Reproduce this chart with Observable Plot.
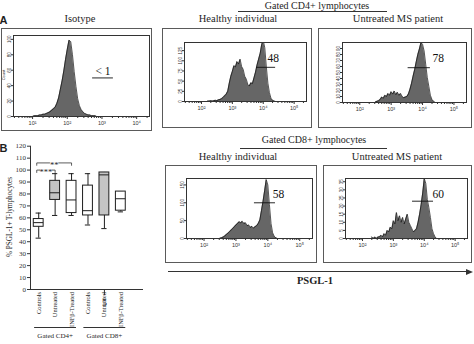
<!DOCTYPE html>
<html><head><meta charset="utf-8">
<script src="https://cdn.jsdelivr.net/npm/d3@7"></script>
<script src="https://cdn.jsdelivr.net/npm/@observablehq/plot@0.6"></script>
<style>
html,body{margin:0;padding:0;background:#fff;}
#fig{position:relative;width:474px;height:344px;overflow:hidden;background:#fff;}
</style></head><body><div id="fig"></div><script>
// ---------- DATA ----------
// Flow-cytometry histograms: counts per log10 bin (bin width 0.05 decade)
const BIN = 0.05;
const isoStart = 1.00;
const isoCounts = [0,1,1,1,2,2,3,3,4,5,6,8,10,12,17,24,35,46,59,74,87,99,97,80,58,39,23,14,9,6,4,3,2,2,1,1,1,0,0];
const cd4HealthyStart = 2.20;
const cd4HealthyCounts = [1,1,2,1,2,3,2,4,5,7,10,14,18,25,45,62,74,88,85,98,92,104,86,79,62,55,42,38,46,44,58,72,90,104,118,140,150,132,85,45,22,8,3,1,0];
const cd4MSStart = 2.50;
const cd4MSCounts = [1,2,3,5,9,7,12,10,15,12,18,14,19,13,17,12,15,10,8,9,10,14,22,32,44,55,68,80,89,100,97,86,64,42,27,12,5,2,0];
const cd8HealthyStart = 2.50;
const cd8HealthyCounts = [1,2,4,7,11,15,19,24,28,33,38,42,47,44,48,42,44,36,38,31,34,29,33,36,42,52,78,104,134,165,150,95,42,16,6,2,0];
const cd8MSStart = 2.30;
const cd8MSCounts = [1,0,1,0,1,1,2,1,3,2,5,4,7,6,11,9,16,11,14,10,13,9,12,15,10,8,6,4,5,6,10,15,21,28,37,34,24,19,13,6,3,1,0];

const gateLabels = ["< 1", "48", "78", "58", "60"];
const panelTitles = ["Isotype", "Healthy individual", "Untreated MS patient", "Healthy individual", "Untreated MS patient"];

const isoXTicks = [1, 2, 3, 4];
const isoXLabels = ["10¹", "10²", "10³", "10⁴"];
const flowXTicks = [2, 3, 4, 5];
const flowXLabels = ["10²", "10³", "10⁴", "10⁵"];
const isoYTicks = [0, 20, 40, 60, 80, 100];
const cd4HealthyYTicks = [0, 25, 50, 75, 100, 125];
const cd4MSYTicks = [0, 10, 20, 30, 40, 50, 60, 70, 80, 90];
const cd8HealthyYTicks = [0, 50, 100, 150];
const cd8MSYTicks = [0, 5, 10, 15, 20, 25, 30, 35];

// Box plot (panel B): % PSGL-1+ T-lymphocytes
const boxGroups = ["Controls", "Untreated", "INFβ-Treated", "Controls", "Untreated", "INFβ-Treated"];
const boxGates = ["Gated CD4+", "Gated CD4+", "Gated CD4+", "Gated CD8+", "Gated CD8+", "Gated CD8+"];
const boxMin = [43, 62, 62, 54, 51, 65];
const boxQ1 = [52.5, 75, 64, 62, 62, 66];
const boxMed = [56, 81, 75, 66, 96, 76];
const boxQ3 = [59, 91, 91, 87, 98, 82];
const boxMax = [64, 97, 97, 97, 98, 82];
const boxYTicks = [0, 10, 20, 30, 40, 50, 60, 70, 80, 90, 100, 110, 120];
const sigText = ["***", "**"];
const sigFrom = [1, 1];
const sigTo = [2, 3];
const sigLevel = [100, 106];

// ---------- HELPERS ----------
const serif = '"Liberation Serif","Times New Roman",Times,serif';
const sans = '"Liberation Sans",Arial,sans-serif';
const fig = document.getElementById("fig");
const INK = "#1e1e1e";

function addText(str, cx, cy, o = {}) {
  const d = document.createElement("div");
  d.textContent = str;
  Object.assign(d.style, {
    position: "absolute", left: cx + "px", top: cy + "px",
    transform: `translate(-50%,-50%) rotate(${o.rotate || 0}deg)`,
    fontSize: (o.size || 10.5) + "px", fontWeight: o.weight || "normal",
    fontFamily: o.family || serif, whiteSpace: "nowrap", lineHeight: "1", color: o.color || INK
  });
  fig.appendChild(d);
}
function addBox(l, t, w, h) {
  const d = document.createElement("div");
  Object.assign(d.style, {position: "absolute", left: l + "px", top: t + "px", width: w + "px", height: h + "px",
    border: "1px solid #5a5a5a", boxSizing: "border-box"});
  fig.appendChild(d);
}
function addHLine(x1, x2, y, color = "#333") {
  const d = document.createElement("div");
  Object.assign(d.style, {position: "absolute", left: x1 + "px", top: y + "px", width: (x2 - x1) + "px", height: "0",
    borderTop: "1px solid " + color});
  fig.appendChild(d);
}
function placeSvg(svg, left, top) {
  svg.style.position = "absolute";
  svg.style.left = left + "px";
  svg.style.top = top + "px";
  svg.style.maxWidth = "none";
  fig.appendChild(svg);
}

function histPanel(cfg) {
  const mL = 20, mT = 4, mR = 4, mB = 16;
  const [x0, x1] = cfg.fx, [y0, y1] = cfg.fy;
  const data = cfg.counts.map((c, i) => ({x: cfg.start + i * BIN, y: c}));
  const minor = [];
  for (let d = 0; d <= 5; d++) for (let k = 2; k <= 9; k++) {
    const v = d + Math.log10(k);
    if (v > cfg.xDomain[0] && v < cfg.xDomain[1]) minor.push(v);
  }
  const lab = new Map(cfg.xTicks.map((t, i) => [t, cfg.xLabels[i]]));
  const svg = Plot.plot({
    width: x1 - x0 + mL + mR, height: y1 - y0 + mT + mB,
    marginLeft: mL, marginTop: mT, marginRight: mR, marginBottom: mB,
    x: {domain: cfg.xDomain}, y: {domain: cfg.yDomain},
    style: {background: "transparent", fontFamily: sans, overflow: "visible", color: "#333"},
    marks: [
      Plot.areaY(data, {x: "x", y: "y", fill: "#666", clip: true}),
      Plot.lineY(data, {x: "x", y: "y", stroke: "#111", strokeWidth: 0.7, clip: true}),
      Plot.frame({stroke: "#333", strokeWidth: 1}),
      Plot.axisX(minor, {tickSize: 2, tickFormat: () => "", label: null}),
      Plot.axisX(cfg.xTicks, {tickSize: 3, tickFormat: d => lab.get(d), fontSize: 5.5, tickPadding: 2, label: null}),
      Plot.axisY(cfg.yTicks, {tickSize: 2, tickRotate: -90, fontSize: 4.5, tickPadding: 1, label: null}),
      Plot.ruleY([cfg.gate], {x1: "x1", x2: "x2", y: "y", stroke: "#111", strokeWidth: 0.9}),
      Plot.text([cfg.gate], {x: "tx", y: "ty", text: "label", textAnchor: cfg.gate.anchor, fontSize: 11.5,
        fill: "#111", fontFamily: serif})
    ]
  });
  placeSvg(svg, x0 - mL, y0 - mT);
}

// ---------- FIGURE A ----------
addText("A", 3.5, 20, {size: 11, weight: "bold", family: sans});
addText(panelTitles[0], 80, 19);
addText("Gated CD4+ lymphocytes", 317, 5.5, {size: 10});
addHLine(238, 387, 11);
addText(panelTitles[1], 238, 19);
addText(panelTitles[2], 398, 19);
addText("Gated CD8+ lymphocytes", 314, 140, {size: 10});
addHLine(240, 387, 148);
addText(panelTitles[3], 238, 157);
addText(panelTitles[4], 397, 157);

addBox(1, 28, 151, 103);
addBox(162, 28, 150, 100);
addBox(318, 28, 154, 100);
addBox(165, 165, 152, 98);
addBox(323, 165, 149, 98);

histPanel({start: isoStart, counts: isoCounts, fx: [13, 149], fy: [35, 116], xDomain: [0.45, 4.37], yDomain: [0, 105],
  xTicks: isoXTicks, xLabels: isoXLabels, yTicks: isoYTicks,
  gate: {x1: 2.73, x2: 3.33, y: 50, tx: 3.03, ty: 58, label: gateLabels[0], anchor: "middle"}});
addText("Count", 4, 75, {size: 4, rotate: -90, family: sans});

histPanel({start: cd4HealthyStart, counts: cd4HealthyCounts, fx: [184, 306], fy: [42, 101], xDomain: [1.45, 5.4], yDomain: [0, 145],
  xTicks: flowXTicks, xLabels: flowXLabels, yTicks: cd4HealthyYTicks,
  gate: {x1: 3.78, x2: 4.4, y: 84, tx: 4.14, ty: 106, label: gateLabels[1], anchor: "start"}});
histPanel({start: cd4MSStart, counts: cd4MSCounts, fx: [342, 466], fy: [42, 102], xDomain: [1.45, 5.4], yDomain: [0, 100],
  xTicks: flowXTicks, xLabels: flowXLabels, yTicks: cd4MSYTicks,
  gate: {x1: 3.54, x2: 4.25, y: 58, tx: 4.32, ty: 73, label: gateLabels[2], anchor: "start"}});
histPanel({start: cd8HealthyStart, counts: cd8HealthyCounts, fx: [186, 312], fy: [178, 238], xDomain: [1.45, 5.4], yDomain: [0, 168],
  xTicks: flowXTicks, xLabels: flowXLabels, yTicks: cd8HealthyYTicks,
  gate: {x1: 3.58, x2: 4.24, y: 100, tx: 4.15, ty: 125, label: gateLabels[3], anchor: "start"}});
histPanel({start: cd8MSStart, counts: cd8MSCounts, fx: [345, 467], fy: [178, 238], xDomain: [1.45, 5.4], yDomain: [0, 37],
  xTicks: flowXTicks, xLabels: flowXLabels, yTicks: cd8MSYTicks,
  gate: {x1: 3.62, x2: 4.3, y: 23, tx: 4.27, ty: 27, label: gateLabels[4], anchor: "start"}});

// arrow + PSGL-1
addHLine(168, 467, 271, "#333");
(() => {
  const a = document.createElement("div");
  Object.assign(a.style, {position: "absolute", left: "466px", top: "268.5px", width: "0", height: "0",
    borderLeft: "7px solid #333", borderTop: "3px solid transparent", borderBottom: "3px solid transparent"});
  fig.appendChild(a);
})();
addText("PSGL-1", 315, 281, {size: 10.5, weight: "bold"});

// ---------- FIGURE B ----------
addText("B", 3.5, 148, {size: 11, weight: "bold", family: sans});
addText("% PSGL-1+ T-lymphocytes", 11, 217, {size: 7.2, rotate: -90});

const rows = boxGroups.map((g, i) => ({i: i + 1, group: g, gate: boxGates[i],
  min: boxMin[i], q1: boxQ1[i], med: boxMed[i], q3: boxQ3[i], max: boxMax[i]}));
const gateRows = Array.from(d3.group(rows, d => d.gate), ([gate, rs]) => ({
  gate, lo: d3.min(rs, d => d.i), hi: d3.max(rs, d => d.i), mid: d3.mean(rs, d => d.i)}));
const brackets = [];
const sigRows = sigText.map((t, k) => {
  const a = sigFrom[k] - 0.12, b = sigTo[k], m = (a + b) / 2, g = t.length * 0.1 + 0.08, y = sigLevel[k];
  brackets.push({k: k + "L", x: a, y: y - 2}, {k: k + "L", x: a, y}, {k: k + "L", x: m - g, y});
  brackets.push({k: k + "R", x: m + g, y}, {k: k + "R", x: b, y}, {k: k + "R", x: b, y: y - 2});
  return {text: t, x: m, y};
});
const hw = 0.3, cw = 0.16;
const bp = Plot.plot({
  width: 150, height: 209, marginLeft: 30, marginRight: 7, marginTop: 10.7, marginBottom: 55,
  x: {domain: [0.5, 7.38]}, y: {domain: [0, 120]},
  style: {background: "transparent", fontFamily: serif, overflow: "visible", color: "#333"},
  marks: [
    Plot.ruleX(rows, {x: "i", y1: "min", y2: "max", stroke: INK}),
    Plot.ruleY(rows, {y: "min", x1: d => d.i - cw, x2: d => d.i + cw, stroke: INK}),
    Plot.ruleY(rows, {y: "max", x1: d => d.i - cw, x2: d => d.i + cw, stroke: INK}),
    Plot.rect(rows.filter(d => d.group !== "Untreated"), {x1: d => d.i - hw, x2: d => d.i + hw, y1: "q1", y2: "q3", fill: "white", stroke: INK}),
    Plot.rect(rows.filter(d => d.group === "Untreated"), {x1: d => d.i - hw, x2: d => d.i + hw, y1: "q1", y2: "q3", fill: "#c4c4c4", stroke: INK}),
    Plot.ruleY(rows, {y: "med", x1: d => d.i - hw, x2: d => d.i + hw, stroke: INK}),
    Plot.ruleX([0.5], {stroke: "#333"}),
    Plot.ruleY([0], {stroke: "#333"}),
    Plot.axisY(boxYTicks, {tickSize: 3, fontSize: 7, tickPadding: 1.5, label: null}),
    Plot.text(rows, {x: "i", y: 0, text: "group", rotate: -90, textAnchor: "end", dy: 2.5, fontSize: 6.4, fill: INK}),
    Plot.line(brackets, {x: "x", y: "y", z: "k", stroke: "#333", strokeWidth: 0.8}),
    Plot.text(sigRows, {x: "x", y: "y", text: "text", fontSize: 8.5, dy: 2, fill: INK}),
    Plot.ruleY(gateRows, {y: 0, x1: d => d.lo - 0.25, x2: d => d.hi + 0.3, dy: 38, stroke: "#333"}),
    Plot.text(gateRows, {x: "mid", y: 0, text: "gate", dy: 46.5, fontSize: 7, fill: INK})
  ]
});
placeSvg(bp, 0, 135);
</script></body></html>
